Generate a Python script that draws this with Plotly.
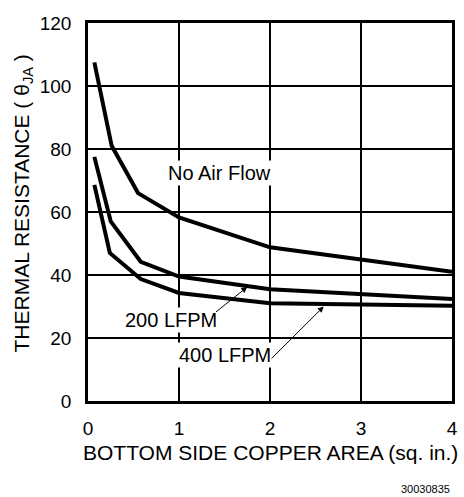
import plotly.graph_objects as go

# copper area (sq. in.) and thermal resistance
no_air_x = [0.07, 0.26, 0.55, 1.0, 2.0, 3.0, 4.0]
no_air_y = [107.5, 81, 66, 58.3, 48.8, 45, 41]

lfpm200_x = [0.07, 0.25, 0.58, 1.0, 2.0, 3.0, 4.0]
lfpm200_y = [77.5, 57, 44.2, 39.5, 35.5, 34, 32.4]

lfpm400_x = [0.07, 0.24, 0.58, 1.0, 2.0, 3.0, 4.0]
lfpm400_y = [68.6, 47, 38.7, 34.3, 31, 30.6, 30.2]

x_ticks = [0, 1, 2, 3, 4]
y_ticks = [0, 20, 40, 60, 80, 100, 120]

font = 'Liberation Sans, Arial, sans-serif'

fig = go.Figure()
for xs, ys in [(no_air_x, no_air_y), (lfpm200_x, lfpm200_y), (lfpm400_x, lfpm400_y)]:
    fig.add_trace(go.Scatter(x=xs, y=ys, mode='lines',
                             line=dict(color='black', width=4),
                             showlegend=False))

fig.update_xaxes(range=[0, 4], tickvals=x_ticks, showgrid=True,
                 gridcolor='black', gridwidth=1.5, zeroline=False,
                 showline=True, linecolor='black', linewidth=2.5, mirror=True,
                 ticks='', ticklabelstandoff=8, ticklabeloverflow='allow',
                 tickfont=dict(size=19, color='black', family=font))
fig.update_yaxes(range=[0, 120], tickvals=y_ticks, showgrid=True,
                 gridcolor='black', gridwidth=1.5, zeroline=False,
                 showline=True, linecolor='black', linewidth=2.5, mirror=True,
                 ticks='', ticklabelstandoff=10, ticklabeloverflow='allow',
                 tickfont=dict(size=19, color='black', family=font))

# labels on the curves (white box breaks the grid behind them)
fig.add_annotation(x=1.45, y=72.4, text='No Air Flow', showarrow=False,
                   bgcolor='white', font=dict(size=20, color='black', family=font))
fig.add_annotation(x=0.91, y=25.7, text='200 LFPM', showarrow=False,
                   bgcolor='white', font=dict(size=20, color='black', family=font))
fig.add_annotation(x=1.5, y=14.6, text='400 LFPM', showarrow=False,
                   bgcolor='white', font=dict(size=20, color='black', family=font))

# pointer arrows
fig.add_annotation(x=1.75, y=36.2, ax=1.39, ay=27.9, axref='x', ayref='y',
                   text='', showarrow=True, arrowhead=2, arrowsize=1.2,
                   arrowwidth=1, arrowcolor='black')
fig.add_annotation(x=2.59, y=30, ax=2.0, ay=13, axref='x', ayref='y',
                   text='', showarrow=True, arrowhead=2, arrowsize=1.2,
                   arrowwidth=1, arrowcolor='black')

# axis titles
fig.add_annotation(x=0.5, y=-0.137, xref='paper', yref='paper',
                   xanchor='center', yanchor='middle',
                   text='BOTTOM SIDE COPPER AREA (sq. in.)', showarrow=False,
                   font=dict(size=21, color='black', family=font))
fig.add_annotation(x=-0.178, y=0.523, xref='paper', yref='paper', textangle=-90,
                   xanchor='center', yanchor='middle',
                   text='THERMAL RESISTANCE ( θ<sub>JA</sub> )', showarrow=False,
                   font=dict(size=21, color='black', family=font))
fig.add_annotation(x=1.0, y=-0.232, xref='paper', yref='paper', xanchor='right',
                   yanchor='middle', text='30030835', showarrow=False,
                   font=dict(size=11, color='black', family=font))

fig.update_layout(width=464, height=497, plot_bgcolor='white', paper_bgcolor='white',
                  margin=dict(l=88, r=6, t=23, b=96))

# page body has an 8px default margin; drop it so the figure fills the window
fig.write_html("out.html", config={'displayModeBar': False},
               post_script="document.body.style.margin='0';")
